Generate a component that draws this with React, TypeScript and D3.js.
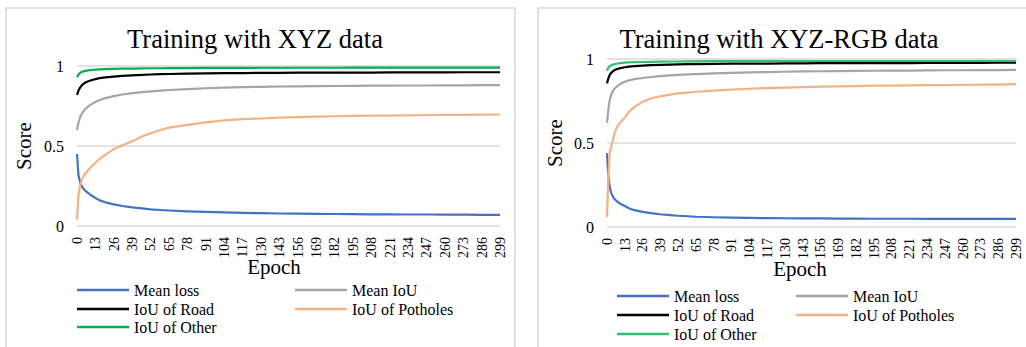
import React from "react";
import * as d3 from "d3";

const epochs = [0, 1, 2, 3, 4, 5, 6, 8, 10, 13, 16, 20, 26, 32, 39, 46, 52, 59, 65, 78, 91, 104, 117, 130, 143, 156, 169, 182, 195, 208, 221, 234, 247, 260, 273, 286, 299];
const epochTicks = [0, 13, 26, 39, 52, 65, 78, 91, 104, 117, 130, 143, 156, 169, 182, 195, 208, 221, 234, 247, 260, 273, 286, 299];
const scoreTicks = [0, 0.5, 1];
const seriesNames = ["Mean loss", "Mean IoU", "IoU of Road", "IoU of Potholes", "IoU of Other"];

// Training with XYZ data
const xyzLoss = [0.450, 0.320, 0.280, 0.255, 0.240, 0.228, 0.220, 0.205, 0.192, 0.175, 0.160, 0.148, 0.135, 0.125, 0.116, 0.110, 0.104, 0.100, 0.097, 0.092, 0.088, 0.085, 0.082, 0.080, 0.078, 0.077, 0.076, 0.075, 0.074, 0.073, 0.073, 0.072, 0.072, 0.071, 0.071, 0.070, 0.070];
const xyzMeanIoU = [0.600, 0.645, 0.675, 0.695, 0.710, 0.722, 0.732, 0.748, 0.760, 0.775, 0.787, 0.799, 0.812, 0.822, 0.831, 0.837, 0.842, 0.846, 0.850, 0.856, 0.861, 0.865, 0.868, 0.870, 0.872, 0.873, 0.874, 0.875, 0.876, 0.877, 0.877, 0.878, 0.878, 0.879, 0.879, 0.880, 0.880];
const xyzRoad = [0.820, 0.845, 0.862, 0.875, 0.884, 0.891, 0.897, 0.905, 0.911, 0.918, 0.924, 0.929, 0.934, 0.938, 0.942, 0.945, 0.947, 0.949, 0.950, 0.952, 0.954, 0.955, 0.956, 0.957, 0.957, 0.958, 0.958, 0.959, 0.959, 0.959, 0.960, 0.960, 0.960, 0.960, 0.961, 0.961, 0.961];
const xyzPotholes = [0.040, 0.190, 0.245, 0.275, 0.300, 0.318, 0.330, 0.350, 0.370, 0.395, 0.420, 0.445, 0.480, 0.505, 0.530, 0.560, 0.580, 0.600, 0.615, 0.632, 0.648, 0.660, 0.668, 0.672, 0.677, 0.680, 0.683, 0.686, 0.688, 0.690, 0.690, 0.692, 0.693, 0.694, 0.695, 0.696, 0.697];
const xyzOther = [0.930, 0.945, 0.955, 0.961, 0.965, 0.968, 0.970, 0.973, 0.975, 0.977, 0.979, 0.980, 0.982, 0.983, 0.984, 0.985, 0.986, 0.986, 0.987, 0.987, 0.988, 0.988, 0.988, 0.989, 0.989, 0.989, 0.989, 0.989, 0.990, 0.990, 0.990, 0.990, 0.990, 0.990, 0.990, 0.990, 0.990];

// Training with XYZ-RGB data
const rgbLoss = [0.440, 0.300, 0.240, 0.205, 0.185, 0.172, 0.162, 0.148, 0.137, 0.125, 0.112, 0.100, 0.090, 0.083, 0.076, 0.071, 0.067, 0.064, 0.061, 0.058, 0.056, 0.054, 0.053, 0.052, 0.051, 0.051, 0.050, 0.050, 0.049, 0.049, 0.049, 0.048, 0.048, 0.048, 0.048, 0.048, 0.048];
const rgbMeanIoU = [0.620, 0.700, 0.756, 0.785, 0.805, 0.818, 0.828, 0.842, 0.853, 0.865, 0.873, 0.880, 0.887, 0.893, 0.898, 0.902, 0.905, 0.908, 0.910, 0.914, 0.917, 0.920, 0.922, 0.924, 0.926, 0.927, 0.928, 0.929, 0.930, 0.931, 0.931, 0.932, 0.933, 0.933, 0.934, 0.934, 0.935];
const rgbRoad = [0.855, 0.885, 0.905, 0.917, 0.925, 0.931, 0.936, 0.942, 0.946, 0.951, 0.955, 0.958, 0.961, 0.963, 0.965, 0.967, 0.968, 0.969, 0.970, 0.971, 0.972, 0.973, 0.973, 0.974, 0.974, 0.975, 0.975, 0.975, 0.976, 0.976, 0.976, 0.977, 0.977, 0.977, 0.977, 0.978, 0.978];
const rgbPotholes = [0.060, 0.300, 0.440, 0.480, 0.505, 0.540, 0.570, 0.605, 0.625, 0.650, 0.685, 0.715, 0.745, 0.765, 0.778, 0.788, 0.795, 0.800, 0.805, 0.812, 0.818, 0.823, 0.827, 0.830, 0.833, 0.835, 0.837, 0.839, 0.841, 0.842, 0.843, 0.844, 0.845, 0.846, 0.847, 0.848, 0.850];
const rgbOther = [0.930, 0.950, 0.958, 0.962, 0.965, 0.968, 0.970, 0.973, 0.976, 0.978, 0.980, 0.981, 0.982, 0.983, 0.984, 0.985, 0.985, 0.986, 0.986, 0.987, 0.987, 0.987, 0.987, 0.988, 0.988, 0.988, 0.988, 0.988, 0.988, 0.988, 0.988, 0.988, 0.988, 0.988, 0.988, 0.988, 0.988];

const FONT = "'Liberation Serif', 'Times New Roman', Times, serif";
const GRID = "#d9d9d9";
const txt = { fontFamily: FONT, fill: "#000" };

type PanelProps = {
  title: string;
  series: number[][];
  colors: string[];
  box: { x: number; y: number; w: number; h: number };
  plot: { left: number; right: number; top: number; bottom: number };
  titleX: number;
  scoreX: number;
  epochX: number;
  epochY: number;
  legend: { col1: number; col2: number; rows: number[] };
};

const Panel = ({ title, series, colors, box, plot, titleX, scoreX, epochX, epochY, legend }: PanelProps) => {
  const x = d3.scaleLinear().domain([0, 299]).range([plot.left, plot.right]);
  const y = d3.scaleLinear().domain([0, 1]).range([plot.bottom, plot.top]);
  const line = d3
    .line<number>()
    .x((_, i) => x(epochs[i]))
    .y((d) => y(d));

  // legend order: Mean loss, Mean IoU / IoU of Road, IoU of Potholes / IoU of Other
  const legendPos = seriesNames.map((_, i) => ({
    x: i % 2 === 0 ? legend.col1 : legend.col2,
    y: legend.rows[Math.floor(i / 2)],
  }));

  return (
    <g>
      <rect x={box.x} y={box.y} width={box.w} height={box.h} fill="#fff" stroke={GRID} strokeWidth={1.5} />
      <text x={titleX} y={48} textAnchor="middle" style={{ ...txt, fontSize: "26.5px" }}>
        {title}
      </text>

      {scoreTicks.map((t) => (
        <g key={t}>
          <line x1={plot.left} x2={plot.right} y1={y(t)} y2={y(t)} stroke={GRID} strokeWidth={1.5} />
          <text x={plot.left - 13} y={y(t)} dy="0.35em" textAnchor="end" style={{ ...txt, fontSize: "16px" }}>
            {t}
          </text>
        </g>
      ))}

      {epochTicks.map((t) => (
        <text
          key={t}
          transform={`translate(${x(t)},${plot.bottom + 11}) rotate(-90)`}
          dy="0.35em"
          textAnchor="end"
          style={{ ...txt, fontSize: "14px" }}
        >
          {t}
        </text>
      ))}

      <text
        transform={`translate(${scoreX},${(plot.top + plot.bottom) / 2}) rotate(-90)`}
        textAnchor="middle"
        style={{ ...txt, fontSize: "21px" }}
      >
        Score
      </text>
      <text x={epochX} y={epochY} textAnchor="middle" style={{ ...txt, fontSize: "21px" }}>
        Epoch
      </text>

      {series.map((s, i) => (
        <path key={i} d={line(s) ?? ""} fill="none" stroke={colors[i]} strokeWidth={2.2} strokeLinejoin="round" />
      ))}

      {seriesNames.map((name, i) => (
        <g key={name}>
          <line x1={legendPos[i].x} x2={legendPos[i].x + 52} y1={legendPos[i].y} y2={legendPos[i].y} stroke={colors[i]} strokeWidth={2.5} />
          <text x={legendPos[i].x + 57} y={legendPos[i].y} dy="0.35em" style={{ ...txt, fontSize: "16px" }}>
            {name}
          </text>
        </g>
      ))}
    </g>
  );
};

export default function App() {
  return (
    <svg width={1026} height={347} style={{ position: "absolute", left: 0, top: 0, background: "#fff", fontFamily: FONT }}>
      <rect width={1026} height={347} fill="#fff" />
      <Panel
        title="Training with XYZ data"
        series={[xyzLoss, xyzMeanIoU, xyzRoad, xyzPotholes, xyzOther]}
        colors={["#4472c4", "#a5a5a5", "#000000", "#f4b183", "#00b050"]}
        box={{ x: 6, y: 8, w: 509, h: 360 }}
        plot={{ left: 77, right: 500, top: 66, bottom: 226 }}
        titleX={255}
        scoreX={31}
        epochX={274}
        epochY={274}
        legend={{ col1: 77, col2: 295, rows: [290, 309, 327] }}
      />
      <Panel
        title="Training with XYZ-RGB data"
        series={[rgbLoss, rgbMeanIoU, rgbRoad, rgbPotholes, rgbOther]}
        colors={["#4472c4", "#a5a5a5", "#000000", "#f4b183", "#33bf6b"]}
        box={{ x: 538, y: 8, w: 520, h: 360 }}
        plot={{ left: 607, right: 1016, top: 59, bottom: 227 }}
        titleX={779}
        scoreX={562}
        epochX={800}
        epochY={276}
        legend={{ col1: 617, col2: 796, rows: [296, 315, 334] }}
      />
    </svg>
  );
}
